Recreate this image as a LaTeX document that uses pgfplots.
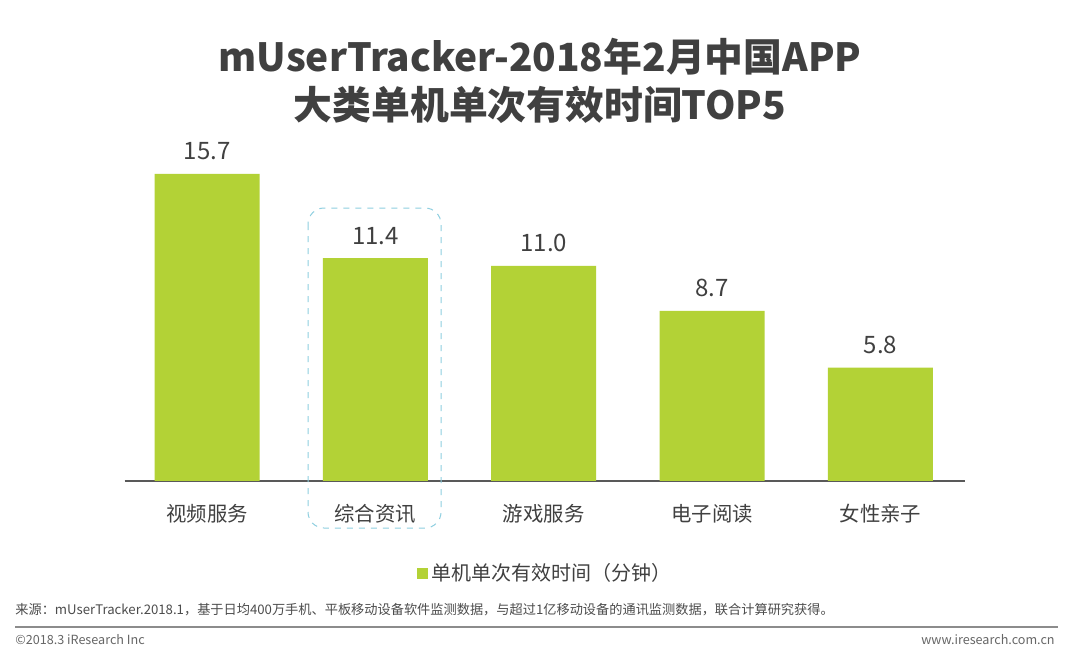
\documentclass[border=0pt]{standalone}
\usepackage{fontspec}
\setmainfont{Noto Sans CJK SC}
\usepackage{pgfplots}
\pgfplotsset{compat=1.18}
\definecolor{bargreen}{HTML}{B3D236}
\definecolor{txt}{HTML}{404040}
\definecolor{boxc}{HTML}{8ECFE0}
\begin{document}
\begin{tikzpicture}[x=1pt,y=1pt]
% page 1080x669 px at 0.5pt per px
\fill[white] (0,0) rectangle (540,-334.5);
\node[font=\fontsize{19.4}{23}\selectfont\bfseries, text=txt] at (270,-28.5) {mUserTracker-2018年2月中国APP};
\node[font=\fontsize{19.4}{23}\selectfont\bfseries, text=txt] at (270,-52.5) {大类单机单次有效时间TOP5};

\begin{axis}[
  at={(74,-246)}, anchor=south west,
  scale only axis, width=420pt, height=156.4pt,
  xmin=-0.49, xmax=4.5, ymin=0, ymax=16,
  axis x line=bottom, axis y line=none,
  x axis line style={-, color=black!65, line width=0.6pt},
  xtick=data, major tick length=0pt,
  xticklabels={视频服务,综合资讯,游戏服务,电子阅读,女性亲子},
  xticklabel style={font=\fontsize{10.2}{12}\selectfont, text=txt, yshift=-8pt},
  /pgf/number format/assume math mode=true,
  legend style={at={(0.502,-0.297)}, anchor=center, draw=none, fill=none,
    font=\fontsize{10}{12}\selectfont, text=txt},
  legend image code/.code={\fill[bargreen] (0pt,-2.8pt) rectangle (5.6pt,2.8pt);},
]
\addplot[ybar, fill=bargreen, draw=none, bar width=52.5pt,
  nodes near coords={\pgfmathprintnumber[fixed,fixed zerofill,precision=1]{\pgfplotspointmeta}},
  nodes near coords style={font=\fontsize{12}{14}\selectfont, text=txt, anchor=base, yshift=7pt}]
  coordinates {(0,15.7) (1,11.4) (2,11.0) (3,8.7) (4,5.8)};
\addlegendentry{单机单次有效时间（分钟）}
\end{axis}

% highlight box
\draw[boxc, dashed, line width=0.5pt, rounded corners=8pt] (154,-104) rectangle (220.5,-264);

% footnotes
\node[anchor=west, font=\fontsize{6.6}{8}\selectfont, text=black!70, inner sep=0] at (7.5,-305) {来源：mUserTracker.2018.1，基于日均400万手机、平板移动设备软件监测数据，与超过1亿移动设备的通讯监测数据，联合计算研究获得。};
\draw[black!45, line width=1pt] (7.5,-313.5) -- (529,-313.5);
\node[anchor=west, font=\fontsize{6.3}{8}\selectfont, text=black!60, inner sep=0] at (7.5,-320) {©2018.3 iResearch Inc};
\node[anchor=east, font=\fontsize{6.3}{8}\selectfont, text=black!60, inner sep=0] at (527.5,-320) {www.iresearch.com.cn};
\end{tikzpicture}
\end{document}
